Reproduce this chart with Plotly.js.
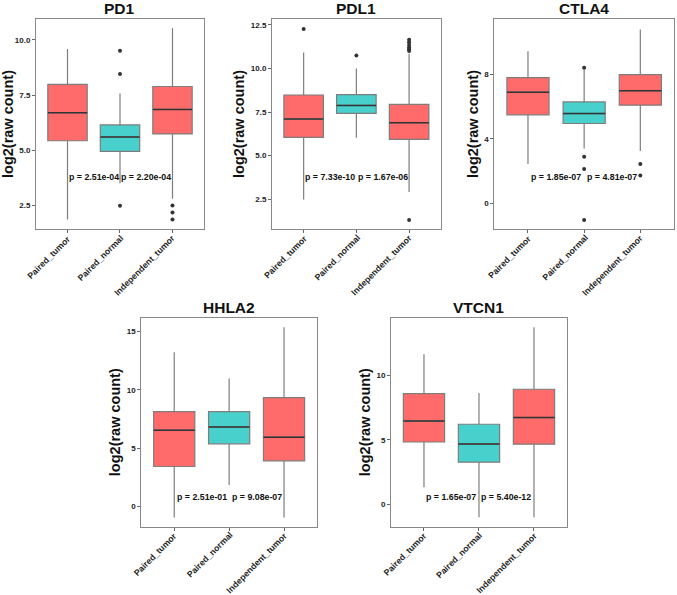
<!DOCTYPE html>
<html>
<head>
<meta charset="utf-8">
<script src="https://cdn.plot.ly/plotly-3.0.1.min.js"></script>
<style>html,body{margin:0;padding:0;background:#fff;}#chart{width:677px;height:595px;}</style>
</head>
<body>
<div id="chart"></div>
<script>
// ---- Data ----
const categories = ['Paired_tumor', 'Paired_normal', 'Independent_tumor'];
const genes = ['PD1', 'PDL1', 'CTLA4', 'HHLA2', 'VTCN1'];
const boxColors = ['#FF6B6B', '#48D1CC', '#FF6B6B'];

// PD1
const PD1_lower = [1.86, 3.5, 2.8];
const PD1_q1 = [5.43, 4.95, 5.74];
const PD1_median = [6.70, 5.60, 6.85];
const PD1_q3 = [7.99, 6.15, 7.89];
const PD1_upper = [9.59, 7.57, 10.53];
const PD1_outX = [2, 2, 2, 3, 3, 3];
const PD1_outY = [9.51, 8.46, 2.48, 2.50, 2.18, 1.86];
const PD1_pvals = ['p = 2.51e-04', 'p = 2.20e-04'];
const PD1_pY = 3.8;

// PDL1
const PDL1_lower = [2.48, 6.03, 2.92];
const PDL1_q1 = [6.05, 7.42, 5.93];
const PDL1_median = [7.10, 7.88, 6.89];
const PDL1_q3 = [8.48, 8.50, 7.94];
const PDL1_upper = [10.92, 10.0, 10.84];
const PDL1_outX = [1, 2, 3, 3, 3, 3, 3, 3, 3];
const PDL1_outY = [12.27, 10.75, 11.65, 11.5, 11.35, 11.2, 11.1, 11.0, 1.31];
const PDL1_pvals = ['p = 7.33e-10', 'p = 1.67e-06'];
const PDL1_pY = 3.77;

// CTLA4
const CTLA4_lower = [2.44, 3.40, 3.25];
const CTLA4_q1 = [5.50, 4.96, 6.10];
const CTLA4_median = [6.91, 5.58, 7.00];
const CTLA4_q3 = [7.81, 6.30, 8.00];
const CTLA4_upper = [9.45, 8.30, 10.80];
const CTLA4_outX = [2, 2, 2, 2, 3, 3];
const CTLA4_outY = [8.42, 2.90, 2.13, -1.04, 2.44, 1.72];
const CTLA4_pvals = ['p = 1.85e-07', 'p = 4.81e-07'];
const CTLA4_pY = 1.63;

// HHLA2
const HHLA2_lower = [-0.95, 1.83, -0.95];
const HHLA2_q1 = [3.42, 5.37, 3.91];
const HHLA2_median = [6.54, 6.82, 5.94];
const HHLA2_q3 = [8.14, 8.14, 9.34];
const HHLA2_upper = [13.23, 10.97, 15.38];
const HHLA2_outX = [];
const HHLA2_outY = [];
const HHLA2_pvals = ['p = 2.51e-01', 'p = 9.08e-07'];
const HHLA2_pY = 0.80;

// VTCN1
const VTCN1_lower = [1.32, -1.01, -1.01];
const VTCN1_q1 = [4.84, 3.27, 4.67];
const VTCN1_median = [6.48, 4.69, 6.74];
const VTCN1_q3 = [8.60, 6.22, 8.94];
const VTCN1_upper = [11.66, 8.65, 13.76];
const VTCN1_outX = [];
const VTCN1_outY = [];
const VTCN1_pvals = ['p = 1.65e-07', 'p = 5.40e-12'];
const VTCN1_pY = 0.57;

const yTickVals = {
  PD1: [2.5, 5.0, 7.5, 10.0],
  PDL1: [2.5, 5.0, 7.5, 10.0, 12.5],
  CTLA4: [0, 4, 8],
  HHLA2: [0, 5, 10, 15],
  VTCN1: [0, 5, 10]
};

// ---- Layout geometry ----
const BOX_W = 0.75;
const panels = {
  PD1:   {x: [0.0532, 0.3013], y: [0.6151, 0.9681], yr: [1.43, 10.95], tf: '.1f', titleY: 0.985},
  PDL1:  {x: [0.4018, 0.6510], y: [0.6151, 0.9681], yr: [0.79, 12.84], tf: '.1f', titleY: 0.985},
  CTLA4: {x: [0.7301, 0.9956], y: [0.6151, 0.9681], yr: [-1.6, 11.46], tf: '', titleY: 0.985},
  HHLA2: {x: [0.2087, 0.4682], y: [0.1148, 0.4661], yr: [-1.75, 16.2], tf: '', titleY: 0.484},
  VTCN1: {x: [0.5775, 0.8375], y: [0.1148, 0.4661], yr: [-1.74, 14.5], tf: '', titleY: 0.484}
};

const stats = {
  PD1: [PD1_lower, PD1_q1, PD1_median, PD1_q3, PD1_upper, PD1_outX, PD1_outY, PD1_pvals, PD1_pY],
  PDL1: [PDL1_lower, PDL1_q1, PDL1_median, PDL1_q3, PDL1_upper, PDL1_outX, PDL1_outY, PDL1_pvals, PDL1_pY],
  CTLA4: [CTLA4_lower, CTLA4_q1, CTLA4_median, CTLA4_q3, CTLA4_upper, CTLA4_outX, CTLA4_outY, CTLA4_pvals, CTLA4_pY],
  HHLA2: [HHLA2_lower, HHLA2_q1, HHLA2_median, HHLA2_q3, HHLA2_upper, HHLA2_outX, HHLA2_outY, HHLA2_pvals, HHLA2_pY],
  VTCN1: [VTCN1_lower, VTCN1_q1, VTCN1_median, VTCN1_q3, VTCN1_upper, VTCN1_outX, VTCN1_outY, VTCN1_pvals, VTCN1_pY]
};

const FONT = 'Liberation Sans, Arial, sans-serif';
const traces = [];
const layout = {
  width: 677, height: 595,
  margin: {l: 0, r: 0, t: 0, b: 0},
  paper_bgcolor: '#ffffff', plot_bgcolor: '#ffffff',
  showlegend: false,
  font: {family: FONT, color: '#222'},
  annotations: []
};

genes.forEach((g, gi) => {
  const n = gi === 0 ? '' : String(gi + 1);
  const xa = 'x' + n, ya = 'y' + n;
  const [lo, q1, med, q3, hi, ox, oy, pv, pY] = stats[g];
  const P = panels[g];
  categories.forEach((c, ci) => {
    traces.push({
      type: 'box', xaxis: xa, yaxis: ya,
      x: [ci + 1], q1: [q1[ci]], median: [med[ci]], q3: [q3[ci]],
      lowerfence: [lo[ci]], upperfence: [hi[ci]],
      width: BOX_W, whiskerwidth: 0, boxpoints: false,
      fillcolor: boxColors[ci],
      line: {color: '#7d7d7d', width: 1.2},
      hoverinfo: 'skip'
    });
    // darker median line over the box
    traces.push({
      type: 'scatter', mode: 'lines', xaxis: xa, yaxis: ya,
      x: [ci + 1 - BOX_W / 2, ci + 1 + BOX_W / 2], y: [med[ci], med[ci]],
      line: {color: '#333333', width: 1.5}, hoverinfo: 'skip'
    });
    // category label under the axis, rotated 45 degrees
    layout.annotations.push({
      xref: xa, yref: 'paper', x: ci + 1, y: P.y[0],
      xanchor: 'right', yanchor: 'top', xshift: 8, yshift: -1,
      textangle: -45, showarrow: false,
      text: '<b>' + c + '</b>', font: {family: FONT, size: 8.7, color: '#222'}
    });
  });
  if (ox.length) {
    traces.push({
      type: 'scatter', mode: 'markers', xaxis: xa, yaxis: ya,
      x: ox, y: oy, marker: {color: '#333333', size: 4}, hoverinfo: 'skip'
    });
  }
  layout['xaxis' + n] = {
    domain: P.x, anchor: ya, range: [0.4, 3.6],
    tickvals: [1, 2, 3], showticklabels: false,
    ticks: 'outside', ticklen: 3, tickcolor: '#666',
    showline: true, mirror: true, linecolor: '#888', linewidth: 1,
    showgrid: false, zeroline: false, fixedrange: true
  };
  layout['yaxis' + n] = {
    domain: P.y, anchor: xa, range: P.yr,
    tickvals: yTickVals[g], tickformat: P.tf,
    tickfont: {family: FONT, size: 8, color: '#222', weight: 'bold'},
    ticks: 'outside', ticklen: 3, tickcolor: '#666',
    showline: true, mirror: true, linecolor: '#888', linewidth: 1,
    showgrid: false, zeroline: false, fixedrange: true,
    title: {text: 'log2(raw count)', font: {family: FONT, size: 14.5, color: '#111', weight: 'bold'}, standoff: 2}
  };
  layout.annotations.push({
    xref: 'paper', yref: 'paper', x: (P.x[0] + P.x[1]) / 2, y: P.titleY,
    xanchor: 'center', yanchor: 'middle', showarrow: false,
    text: '<b>' + g + '</b>', font: {family: FONT, size: 15.5, color: '#111'}
  });
  pv.forEach((t, k) => {
    layout.annotations.push({
      xref: xa, yref: ya, x: 1.5 + k, y: pY,
      xanchor: 'center', yanchor: 'middle', showarrow: false,
      text: '<b>' + t + '</b>', font: {family: FONT, size: 8.8, color: '#111'}
    });
  });
});

Plotly.newPlot('chart', traces, layout, {displayModeBar: false, staticPlot: true});
</script>
</body>
</html>
